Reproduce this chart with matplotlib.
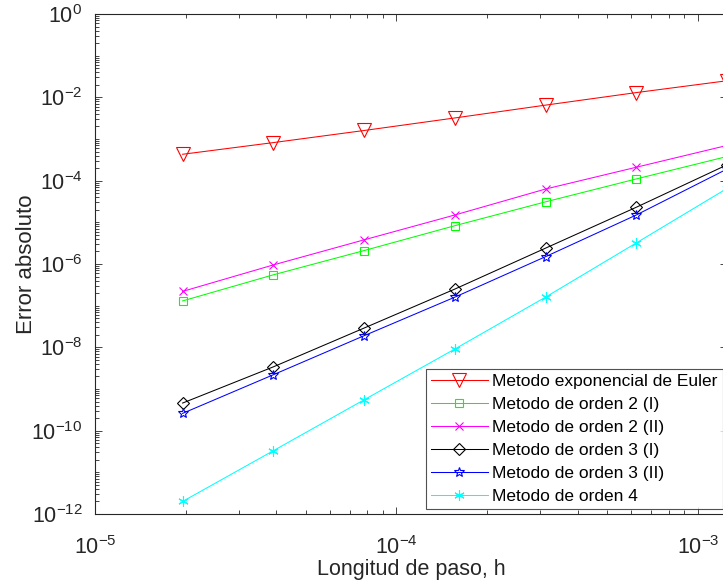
import numpy as np
import matplotlib
matplotlib.use("Agg")
import matplotlib.pyplot as plt
from matplotlib.ticker import FixedLocator, LogFormatterSciNotation, NullFormatter

plt.rcParams['font.family'] = ['Liberation Sans', 'DejaVu Sans']
plt.rcParams['mathtext.fontset'] = 'custom'
plt.rcParams['mathtext.rm'] = 'Liberation Sans'

h = [1.953e-5, 3.906e-5, 7.8125e-5, 1.5625e-4, 3.125e-4, 6.25e-4, 1.25e-3]

err_euler = [4.3e-4, 8.2e-4, 1.6e-3, 3.2e-3, 6.5e-3, 1.3e-2, 2.5e-2]
err_o2_i = [1.3e-7, 5.5e-7, 2.1e-6, 8.3e-6, 3.1e-5, 1.1e-4, 3.8e-4]
err_o2_ii = [2.2e-7, 9.5e-7, 3.8e-6, 1.5e-5, 6.3e-5, 2.1e-4, 7.0e-4]
err_o3_i = [4.6e-10, 3.4e-9, 2.9e-8, 2.5e-7, 2.4e-6, 2.3e-5, 2.4e-4]
err_o3_ii = [2.6e-10, 2.2e-9, 1.9e-8, 1.6e-7, 1.5e-6, 1.5e-5, 1.9e-4]
err_o4 = [2.0e-12, 3.3e-11, 5.5e-10, 9.1e-9, 1.6e-7, 3.2e-6, 6.5e-5]

labels = ["Metodo exponencial de Euler", "Metodo de orden 2 (I)", "Metodo de orden 2 (II)",
          "Metodo de orden 3 (I)", "Metodo de orden 3 (II)", "Metodo de orden 4"]

W, H = 723, 587
fig = plt.figure(figsize=(W / 100, H / 100), dpi=100)
left, right, top, bottom = 95, 727, 14, 514
ax = fig.add_axes([left / W, (H - bottom) / H, (right - left) / W, (bottom - top) / H])

gray = '#262626'
series = [
    (err_euler, (1, 0, 0), 'v', 9.5),
    (err_o2_i, (0, 1, 0), 's', 6),
    (err_o2_ii, (1, 0, 1), 'x', 6),
    (err_o3_i, (0, 0, 0), 'D', 6),
    (err_o3_ii, (0, 0, 1), '*', 7.5),
    (err_o4, (0, 1, 1), (6, 2, 0), 7.5),
]
for (ys, c, m, ms), lab in zip(series, labels):
    ax.plot(h, ys, color=c, marker=m, markersize=ms, markerfacecolor='none',
            markeredgecolor=c, markeredgewidth=0.8, linewidth=0.75, label=lab)

ax.set_xscale('log')
ax.set_yscale('log')
ax.set_xlim(1e-5, 1.25e-3)
ax.set_ylim(1e-12, 1e0)

ax.xaxis.set_major_locator(FixedLocator([1e-5, 1e-4, 1e-3]))
ax.xaxis.set_minor_locator(FixedLocator([k * 10.0 ** e for e in (-5, -4, -3) for k in range(2, 10)]))
ax.yaxis.set_major_locator(FixedLocator([10.0 ** e for e in range(-12, 1, 2)]))
ax.yaxis.set_minor_locator(FixedLocator([k * 10.0 ** e for e in range(-12, 0) for k in range(1, 10)
                                         if not (k == 1 and e % 2 == 0)]))
ax.xaxis.set_major_formatter(LogFormatterSciNotation())
ax.yaxis.set_major_formatter(LogFormatterSciNotation())
ax.xaxis.set_minor_formatter(NullFormatter())
ax.yaxis.set_minor_formatter(NullFormatter())

ax.tick_params(which='both', direction='in', top=True, right=True, color=gray,
               labelcolor=gray, labelsize=15.5, width=0.6)
ax.tick_params(which='major', length=5)
ax.tick_params(which='minor', length=3)
ax.tick_params(axis='x', which='major', pad=16)
ax.tick_params(axis='y', which='major', pad=9)
for s in ax.spines.values():
    s.set_color(gray)
    s.set_linewidth(0.8)

ax.set_xlabel('Longitud de paso, h', fontsize=15.5, color=gray)
ax.set_ylabel('Error absoluto', fontsize=16, color=gray)
ax.xaxis.set_label_coords(0.5, (514 - 559) / 500)
ax.yaxis.set_label_coords((37 - 95) / 632, 0.5)

leg = ax.legend(loc='lower right', bbox_to_anchor=((723 - 95) / 632, (514 - 509) / 500),
                fontsize=12.5, frameon=True, fancybox=False, borderaxespad=0,
                handlelength=3.3, labelspacing=0.45, borderpad=0.3,
                handletextpad=0.25)
leg.get_frame().set_edgecolor(gray)
leg.get_frame().set_linewidth(0.8)

fig.savefig('out.png', dpi=100)
